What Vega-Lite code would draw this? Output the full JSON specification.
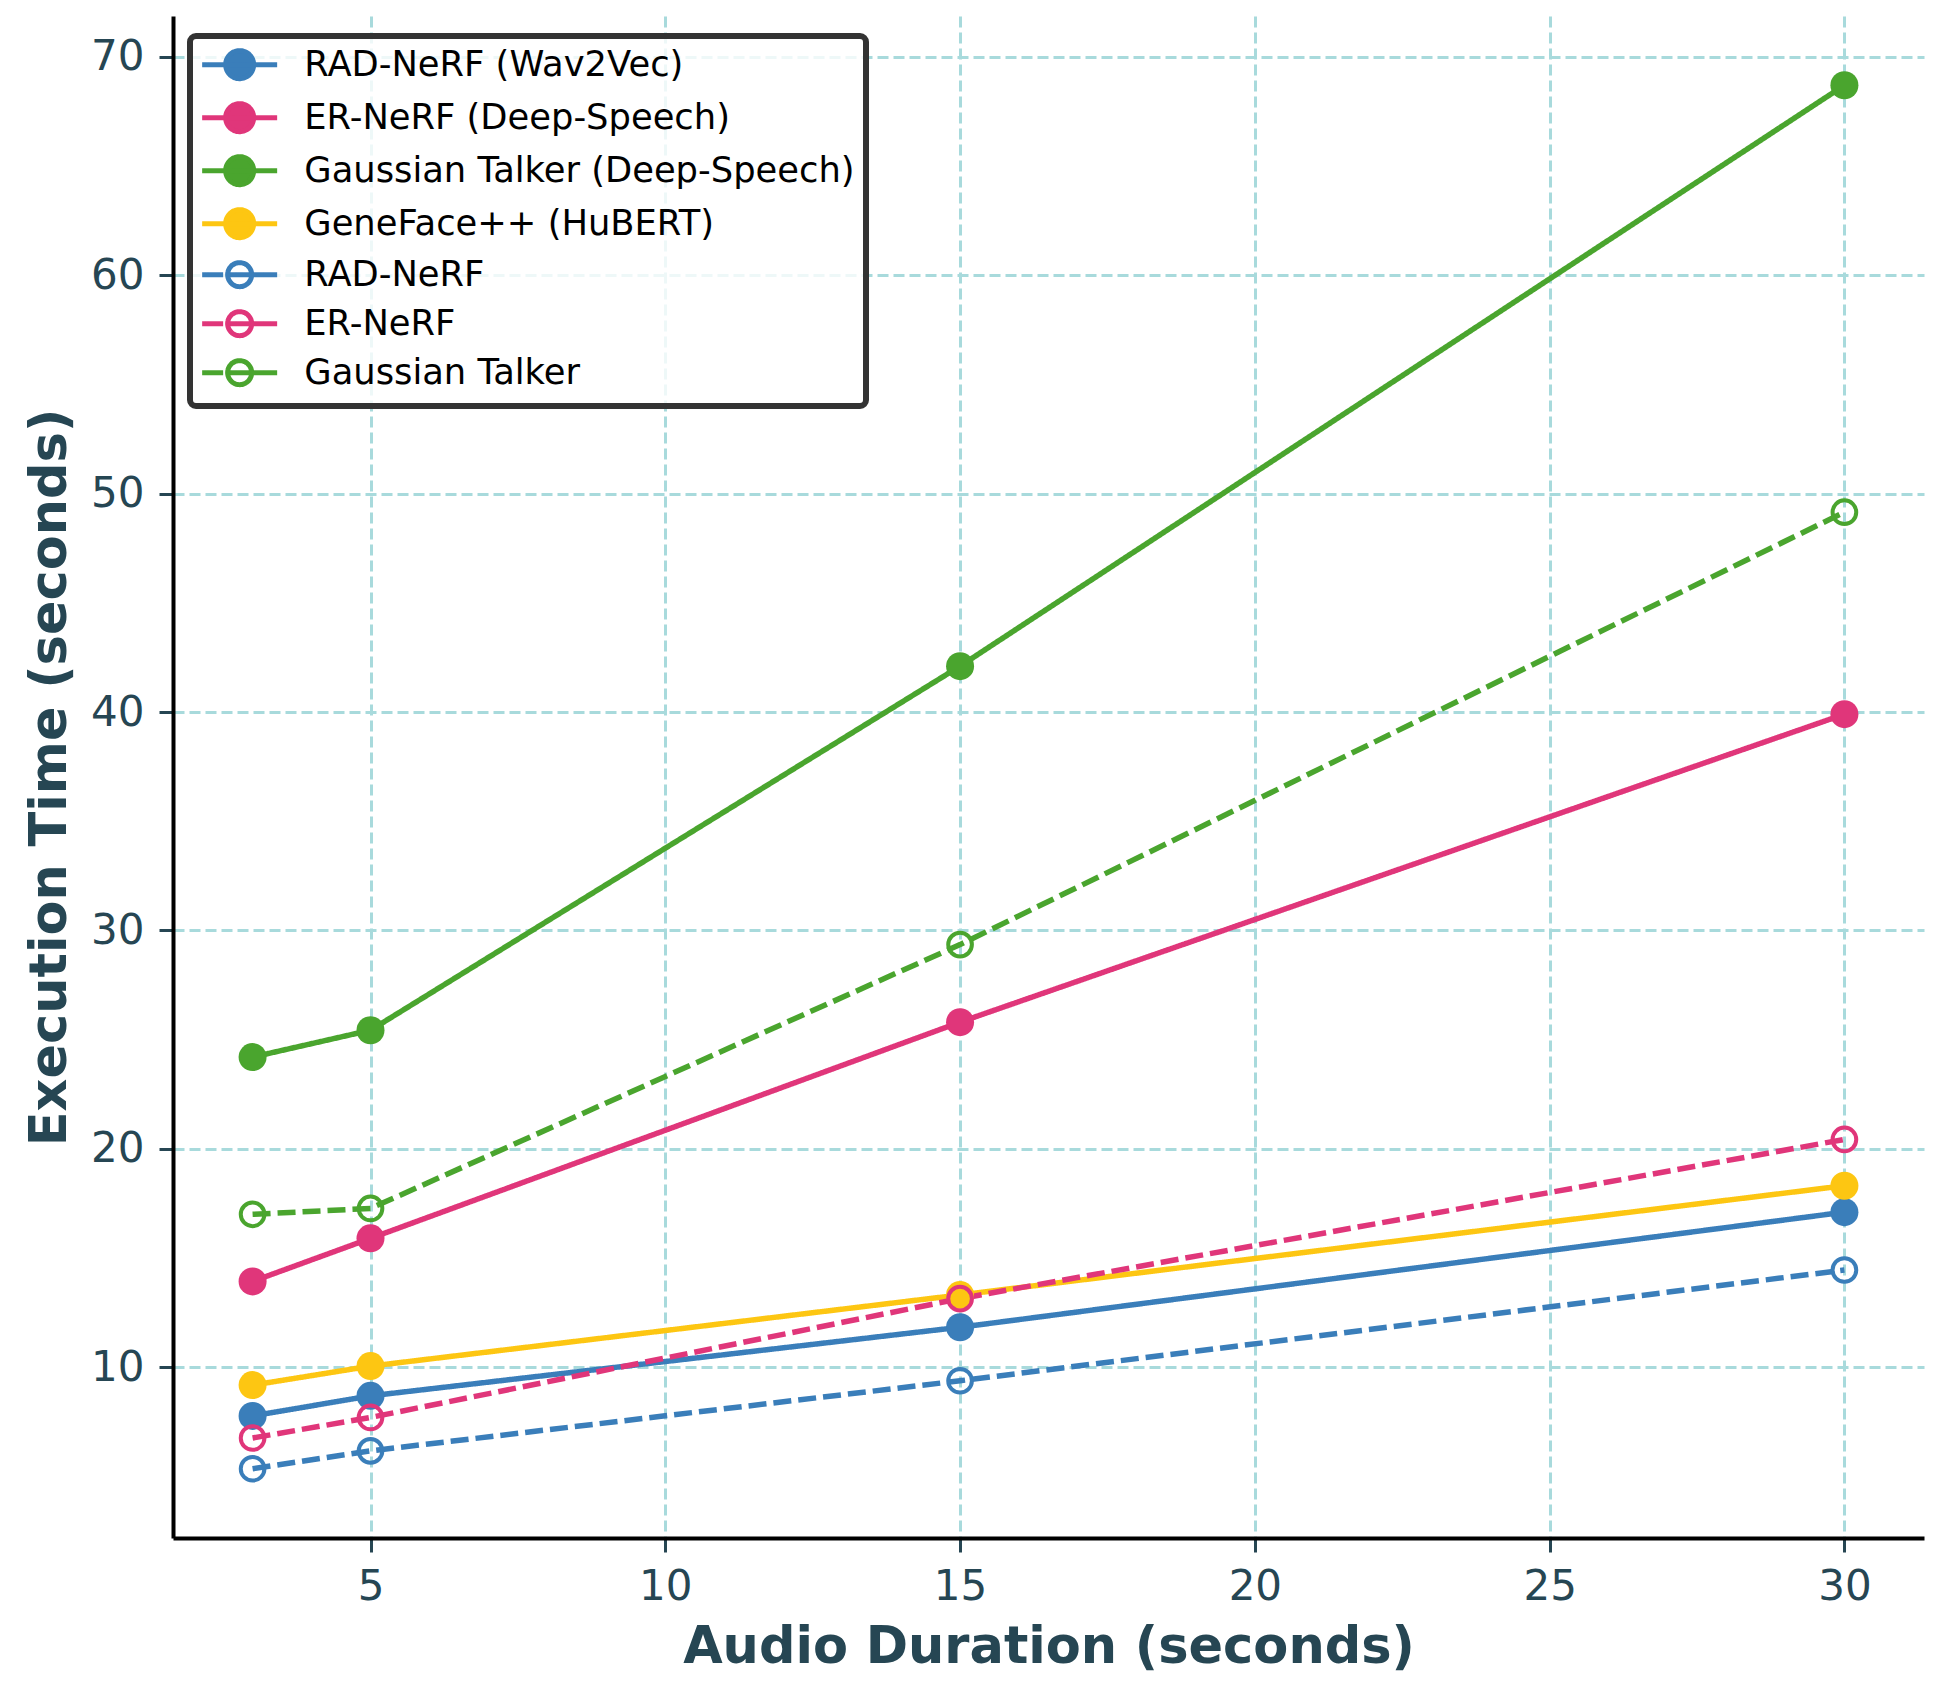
{
  "$schema": "https://vega.github.io/schema/vega-lite/v6.json",
  "autosize": {"type": "none"},
  "padding": {"left": 173, "top": 16, "right": 22, "bottom": 153},
  "width": 1751,
  "height": 1522,
  "background": "white",
  "config": {
    "view": {"stroke": null},
    "font": "DejaVu Sans",
    "axis": {
      "labelFont": "DejaVu Sans",
      "titleFont": "DejaVu Sans",
      "labelFontSize": 42,
      "titleFontSize": 51,
      "titleFontWeight": "bold",
      "labelColor": "#264653",
      "titleColor": "#264653",
      "tickColor": "#264653",
      "tickWidth": 3,
      "tickSize": 14,
      "domainColor": "#000000",
      "domainWidth": 4,
      "grid": true,
      "gridColor": "#A8DADC",
      "gridDash": [11, 5],
      "gridWidth": 3
    }
  },
  "data": {
    "values": [
      {"series": "RAD-NeRF (Wav2Vec)", "kind": "solid", "x": 3, "y": 7.77},
      {"series": "RAD-NeRF (Wav2Vec)", "kind": "solid", "x": 5, "y": 8.69},
      {"series": "RAD-NeRF (Wav2Vec)", "kind": "solid", "x": 15, "y": 11.83},
      {"series": "RAD-NeRF (Wav2Vec)", "kind": "solid", "x": 30, "y": 17.1},
      {"series": "ER-NeRF (Deep-Speech)", "kind": "solid", "x": 3, "y": 13.93},
      {"series": "ER-NeRF (Deep-Speech)", "kind": "solid", "x": 5, "y": 15.9},
      {"series": "ER-NeRF (Deep-Speech)", "kind": "solid", "x": 15, "y": 25.8},
      {"series": "ER-NeRF (Deep-Speech)", "kind": "solid", "x": 30, "y": 39.9},
      {"series": "Gaussian Talker (Deep-Speech)", "kind": "solid", "x": 3, "y": 24.2},
      {"series": "Gaussian Talker (Deep-Speech)", "kind": "solid", "x": 5, "y": 25.43},
      {"series": "Gaussian Talker (Deep-Speech)", "kind": "solid", "x": 15, "y": 42.1},
      {"series": "Gaussian Talker (Deep-Speech)", "kind": "solid", "x": 30, "y": 68.7},
      {"series": "GeneFace++ (HuBERT)", "kind": "solid", "x": 3, "y": 9.18},
      {"series": "GeneFace++ (HuBERT)", "kind": "solid", "x": 5, "y": 10.05},
      {"series": "GeneFace++ (HuBERT)", "kind": "solid", "x": 15, "y": 13.31},
      {"series": "GeneFace++ (HuBERT)", "kind": "solid", "x": 30, "y": 18.31},
      {"series": "RAD-NeRF", "kind": "dashed", "x": 3, "y": 5.35},
      {"series": "RAD-NeRF", "kind": "dashed", "x": 5, "y": 6.17},
      {"series": "RAD-NeRF", "kind": "dashed", "x": 15, "y": 9.38},
      {"series": "RAD-NeRF", "kind": "dashed", "x": 30, "y": 14.45},
      {"series": "ER-NeRF", "kind": "dashed", "x": 3, "y": 6.76},
      {"series": "ER-NeRF", "kind": "dashed", "x": 5, "y": 7.7},
      {"series": "ER-NeRF", "kind": "dashed", "x": 15, "y": 13.14},
      {"series": "ER-NeRF", "kind": "dashed", "x": 30, "y": 20.43},
      {"series": "Gaussian Talker", "kind": "dashed", "x": 3, "y": 17.0},
      {"series": "Gaussian Talker", "kind": "dashed", "x": 5, "y": 17.27},
      {"series": "Gaussian Talker", "kind": "dashed", "x": 15, "y": 29.35},
      {"series": "Gaussian Talker", "kind": "dashed", "x": 30, "y": 49.15}
    ]
  },
  "encoding": {
    "x": {
      "field": "x",
      "type": "quantitative",
      "scale": {"domain": [1.65, 31.35], "nice": false, "zero": false},
      "axis": {
        "title": "Audio Duration (seconds)",
        "values": [5, 10, 15, 20, 25, 30],
        "labelBaseline": "alphabetic",
        "labelPadding": 47,
        "titleY": 124,
        "titleBaseline": "alphabetic"
      }
    },
    "y": {
      "field": "y",
      "type": "quantitative",
      "scale": {"domain": [2.18, 71.87], "nice": false, "zero": false},
      "axis": {
        "title": "Execution Time (seconds)",
        "values": [10, 20, 30, 40, 50, 60, 70],
        "labelPadding": 15,
        "titleX": -108,
        "titleBaseline": "alphabetic"
      }
    },
    "color": {
      "field": "series",
      "type": "nominal",
      "scale": {
        "domain": ["RAD-NeRF (Wav2Vec)", "ER-NeRF (Deep-Speech)", "Gaussian Talker (Deep-Speech)", "GeneFace++ (HuBERT)", "RAD-NeRF", "ER-NeRF", "Gaussian Talker"],
        "range": ["#3A7EBA", "#E0367A", "#4AA52E", "#FDC612", "#3A7EBA", "#E0367A", "#4AA52E"]
      },
      "legend": {
        "title": null,
        "orient": "none",
        "legendX": 17,
        "legendY": 20,
        "labelFont": "DejaVu Sans",
        "labelFontSize": 35.3,
        "labelColor": "#000000",
        "labelLimit": 800,
        "labelOffset": 68,
        "symbolType": "M-1.1,0H3.9M0.467,0A0.933,0.933,0,1,1,2.333,0A0.933,0.933,0,1,1,0.467,0Z",
        "symbolSize": 900,
        "symbolStrokeWidth": 5,
        "rowPadding": 4,
        "padding": 11,
        "fillColor": "rgba(255,255,255,0.8)",
        "strokeColor": "#333333",
        "cornerRadius": 6,
        "encode": {
          "legend": {
            "update": {
              "strokeWidth": {"value": 6}
            }
          },
          "symbols": {
            "update": {
              "shape": [
                {"test": "indexof(datum.value, '(') < 0", "value": "M-1.1,0H0.3M0.6,0H3.9M0.6,0A0.8,0.8,0,1,1,2.2,0A0.8,0.8,0,1,1,0.6,0Z"},
                {"value": "M-1.1,0H3.9M0.467,0A0.933,0.933,0,1,1,2.333,0A0.933,0.933,0,1,1,0.467,0Z"}
              ],
              "fillOpacity": [
                {"test": "indexof(datum.value, '(') < 0", "value": 0},
                {"value": 1}
              ],
              "strokeWidth": {"value": 5},
              "strokeDash": {"value": [1, 0]},
              "opacity": {"value": 1}
            }
          }
        }
      }
    }
  },
  "layer": [
    {
      "mark": {"type": "line", "strokeWidth": 5.5},
      "encoding": {
        "strokeDash": {
          "field": "kind",
          "type": "nominal",
          "scale": {"domain": ["solid", "dashed"], "range": [[1, 0], [18, 7]]},
          "legend": null
        }
      }
    },
    {
      "transform": [{"filter": "datum.kind == 'solid'"}],
      "mark": {"type": "point", "shape": "circle", "filled": true, "size": 784, "opacity": 1}
    },
    {
      "transform": [{"filter": "datum.kind == 'dashed'"}],
      "mark": {"type": "point", "shape": "circle", "filled": false, "size": 560, "strokeWidth": 4, "opacity": 1}
    }
  ]
}
